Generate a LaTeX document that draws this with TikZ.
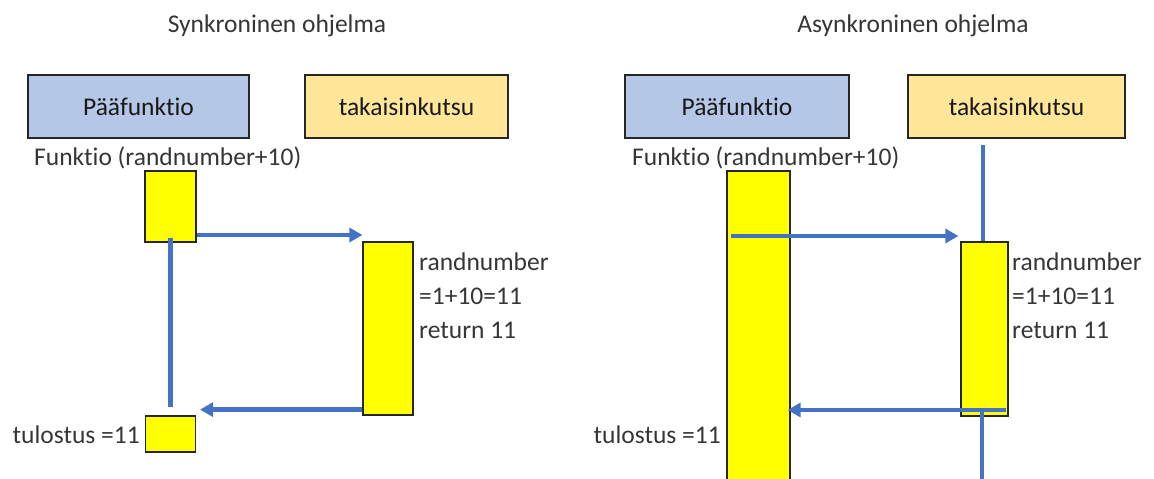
\documentclass[tikz,border=0pt]{standalone}
\usepackage{fontspec}
\setmainfont{Carlito}[Ligatures=NoCommon]
\usetikzlibrary{arrows.meta}
\definecolor{pfblue}{HTML}{B4C7E7}
\definecolor{cbgold}{HTML}{FFE699}
\definecolor{actyellow}{HTML}{FFFF00}
\definecolor{flow}{HTML}{4472C4}
\definecolor{ink}{HTML}{363636}
\definecolor{edge}{HTML}{262626}
\tikzset{
  lane/.style={draw=edge, line width=1.2pt, minimum height=63pt, inner sep=0pt, text=black!90},
  act/.style={draw=edge, line width=1.2pt, fill=actyellow, inner sep=0pt},
  flowline/.style={draw=flow, line width=4.5pt},
  flowarrow/.style={flowline, -{Triangle[length=13pt,width=14pt]}},
  lbl/.style={text=ink, inner sep=0pt},
}
\begin{document}
\begin{tikzpicture}[x=1pt,y=-1pt,font=\fontsize{25.5}{30}\selectfont]
\useasboundingbox (0,0) rectangle (1154,479);

% ---------------- synchronous program ----------------
\node[lbl, anchor=base] (title1) at (277,32) {Synkroninen ohjelma};
\node[lane, fill=pfblue, minimum width=221pt] (pf1) at (138.5,106.5) {Pääfunktio};
\node[lane, fill=cbgold, minimum width=203pt] (tk1) at (406.5,106.5) {takaisinkutsu};
\node[lbl, anchor=base west] (fn1) at (34,165) {Funktio (randnumber+10)};

\node[act, minimum width=51pt, minimum height=71pt] (a1) at (170.5,206.5) {};
\node[act, minimum width=50pt, minimum height=173pt] (b1) at (388,328.5) {};
\node[act, minimum width=50pt, minimum height=36pt] (c1) at (170.5,434) {};

\node[lbl, anchor=base west] (r1a) at (419,270) {randnumber};
\node[lbl, anchor=base west] (r1b) at (419,304) {=1+10=11};
\node[lbl, anchor=base west] (r1c) at (419,338) {return 11};
\node[lbl, anchor=base east] (out1) at (140,443) {tulostus =11};

% call, waiting line and return
\path ([yshift=7.6pt]a1.south east) coordinate (call1);
\path ([yshift=6pt]b1.south west) coordinate (ret1);
\draw[flowarrow] (call1) -- (call1 -| b1.west);
\draw[flowline] ([yshift=5pt]a1.south) -- ([yshift=8pt]c1.north);
\draw[flowarrow, shorten >=4pt] (ret1) -- (ret1 -| c1.east);

% ---------------- asynchronous program ----------------
\node[lbl, anchor=base] (title2) at (913,32) {Asynkroninen ohjelma};
\node[lane, fill=pfblue, minimum width=224pt] (pf2) at (737,106.5) {Pääfunktio};
\node[lane, fill=cbgold, minimum width=217pt] (tk2) at (1016.5,106.5) {takaisinkutsu};
\node[lbl, anchor=base west] (fn2) at (632,165) {Funktio (randnumber+10)};

\node[act, minimum width=63pt, minimum height=314pt] (a2) at (758.5,328) {};
\node[act, minimum width=47pt, minimum height=174pt] (b2) at (984.5,329) {};

\node[lbl, anchor=base west] (r2a) at (1012,270) {randnumber};
\node[lbl, anchor=base west] (r2b) at (1012,304) {=1+10=11};
\node[lbl, anchor=base west] (r2c) at (1012,338) {return 11};
\node[lbl, anchor=base east] (out2) at (721,443) {tulostus =11};

\coordinate (cbtop) at (983,145);
\coordinate (callstart) at (731,236);
\coordinate (retstart) at (1006,410);
\coordinate (cbend) at (982,482);

% callback lifeline, call, return
\draw[flowline] (cbtop) -- (cbtop |- b2.north);
\draw[flowarrow, shorten >=2pt] (callstart) -- (callstart -| b2.west);
\draw[flowarrow, shorten >=-3pt] (retstart) -- (retstart -| a2.east);
\draw[flowline] (retstart -| cbend) -- (cbend);
\end{tikzpicture}
\end{document}
